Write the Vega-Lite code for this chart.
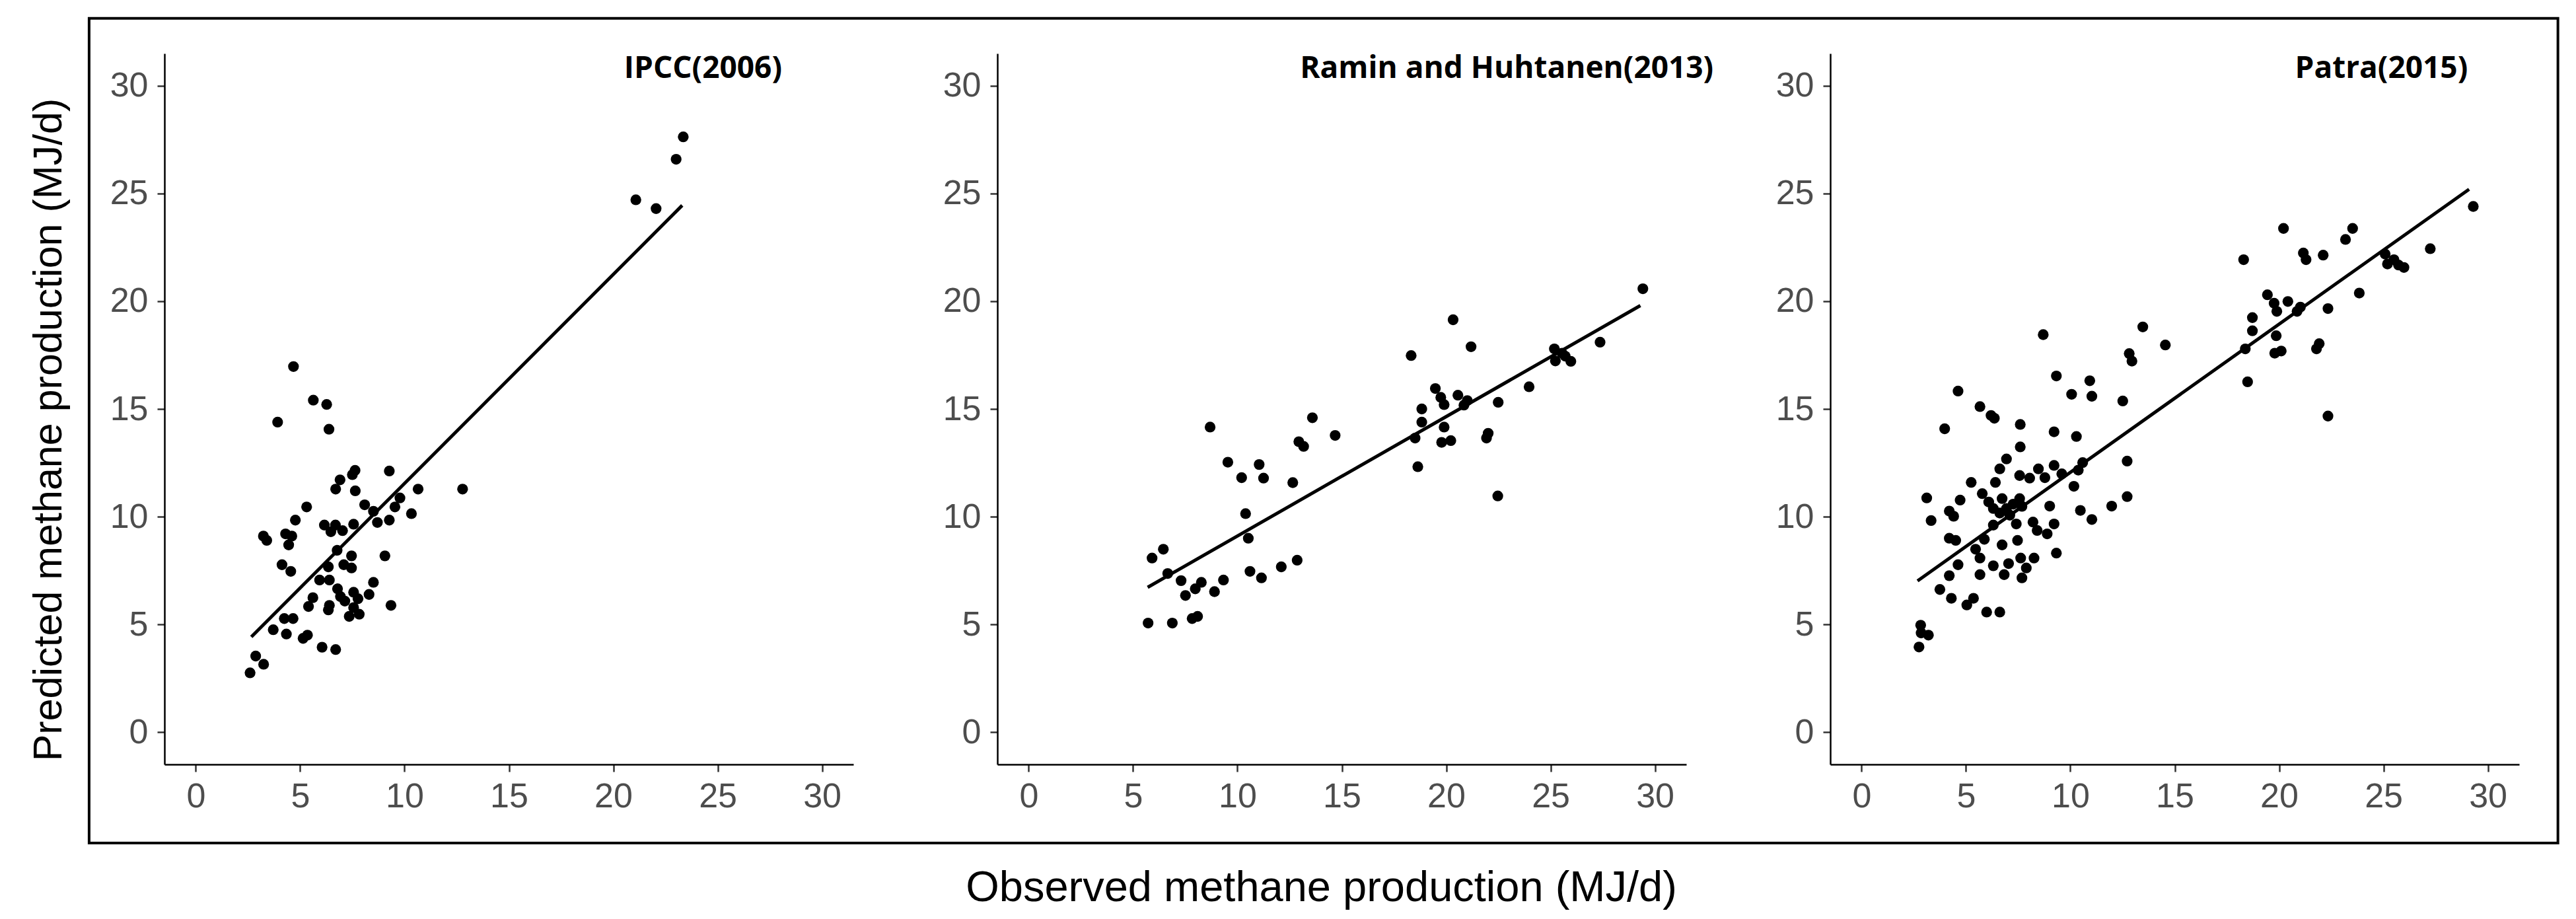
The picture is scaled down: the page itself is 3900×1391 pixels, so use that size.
{
  "$schema": "https://vega.github.io/schema/vega-lite/v6.json",
  "background": "white",
  "padding": {"left": 43, "top": 25, "right": 5, "bottom": 5},
  "config": {
    "view": {"stroke": null},
    "axis": {
      "grid": false,
      "domainColor": "#000000",
      "domainWidth": 2.5,
      "tickColor": "#333333",
      "tickWidth": 2.5,
      "tickSize": 11,
      "labelFont": "Liberation Sans",
      "labelFontSize": 52,
      "labelColor": "#4D4D4D",
      "titleFont": "Liberation Sans",
      "titleFontSize": 63,
      "titleFontWeight": "normal",
      "titleColor": "#000000"
    }
  },
  "datasets": {
    "p1": [
      {"x": 4.68, "y": 16.97}, {"x": 5.63, "y": 15.41}, {"x": 6.27, "y": 15.21}, {"x": 3.92, "y": 14.39},
      {"x": 6.38, "y": 14.06}, {"x": 7.5, "y": 11.95}, {"x": 7.63, "y": 12.15}, {"x": 9.27, "y": 12.12},
      {"x": 6.91, "y": 11.71}, {"x": 6.7, "y": 11.28}, {"x": 7.64, "y": 11.2}, {"x": 10.65, "y": 11.28},
      {"x": 12.78, "y": 11.28}, {"x": 9.78, "y": 10.87}, {"x": 8.09, "y": 10.55}, {"x": 9.54, "y": 10.45},
      {"x": 5.31, "y": 10.45}, {"x": 8.51, "y": 10.25}, {"x": 10.33, "y": 10.14}, {"x": 4.77, "y": 9.84},
      {"x": 8.7, "y": 9.73}, {"x": 9.27, "y": 9.84}, {"x": 6.16, "y": 9.61}, {"x": 6.69, "y": 9.61},
      {"x": 7.56, "y": 9.65}, {"x": 6.47, "y": 9.3}, {"x": 7.03, "y": 9.35}, {"x": 3.24, "y": 9.1},
      {"x": 3.4, "y": 8.9}, {"x": 4.3, "y": 9.2}, {"x": 4.6, "y": 9.1}, {"x": 4.45, "y": 8.69},
      {"x": 6.77, "y": 8.44}, {"x": 7.46, "y": 8.18}, {"x": 7.09, "y": 7.77}, {"x": 7.46, "y": 7.62},
      {"x": 9.06, "y": 8.18}, {"x": 4.13, "y": 7.77}, {"x": 4.55, "y": 7.46}, {"x": 6.35, "y": 7.67},
      {"x": 5.93, "y": 7.06}, {"x": 6.4, "y": 7.06}, {"x": 8.51, "y": 6.95}, {"x": 6.79, "y": 6.65},
      {"x": 7.56, "y": 6.49}, {"x": 8.3, "y": 6.39}, {"x": 5.61, "y": 6.24}, {"x": 5.4, "y": 5.83},
      {"x": 6.4, "y": 5.88}, {"x": 6.35, "y": 5.67}, {"x": 7.14, "y": 6.08}, {"x": 6.93, "y": 6.29},
      {"x": 7.77, "y": 6.19}, {"x": 7.56, "y": 5.78}, {"x": 7.35, "y": 5.37}, {"x": 7.83, "y": 5.47},
      {"x": 9.35, "y": 5.88}, {"x": 4.24, "y": 5.27}, {"x": 4.66, "y": 5.27}, {"x": 3.71, "y": 4.75},
      {"x": 4.34, "y": 4.55}, {"x": 5.14, "y": 4.35}, {"x": 5.35, "y": 4.5}, {"x": 6.05, "y": 3.94},
      {"x": 6.7, "y": 3.83}, {"x": 2.87, "y": 3.53}, {"x": 2.6, "y": 2.75}, {"x": 3.25, "y": 3.15},
      {"x": 21.08, "y": 24.71}, {"x": 22.05, "y": 24.3}, {"x": 23.01, "y": 26.59}, {"x": 23.35, "y": 27.63}
    ],
    "l1": [{"x": 2.66, "y": 4.42}, {"x": 23.3, "y": 24.45}],
    "p2": [
      {"x": 8.69, "y": 14.16}, {"x": 13.59, "y": 14.59}, {"x": 14.68, "y": 13.77}, {"x": 12.94, "y": 13.48},
      {"x": 13.17, "y": 13.26}, {"x": 9.54, "y": 12.53}, {"x": 11.04, "y": 12.42}, {"x": 10.2, "y": 11.81},
      {"x": 11.25, "y": 11.79}, {"x": 12.65, "y": 11.58}, {"x": 10.39, "y": 10.14}, {"x": 10.52, "y": 9.0},
      {"x": 6.45, "y": 8.49}, {"x": 5.91, "y": 8.08}, {"x": 6.66, "y": 7.36}, {"x": 10.6, "y": 7.46},
      {"x": 11.15, "y": 7.16}, {"x": 12.1, "y": 7.67}, {"x": 12.86, "y": 7.98}, {"x": 7.3, "y": 7.03},
      {"x": 8.27, "y": 6.95}, {"x": 7.98, "y": 6.65}, {"x": 7.51, "y": 6.34}, {"x": 9.33, "y": 7.06},
      {"x": 8.9, "y": 6.52}, {"x": 5.72, "y": 5.06}, {"x": 6.88, "y": 5.06}, {"x": 7.83, "y": 5.27},
      {"x": 8.09, "y": 5.37},
      {"x": 29.42, "y": 20.58}, {"x": 20.33, "y": 19.14}, {"x": 21.19, "y": 17.89}, {"x": 18.32, "y": 17.48},
      {"x": 27.37, "y": 18.1}, {"x": 25.18, "y": 17.79}, {"x": 25.55, "y": 17.59}, {"x": 25.23, "y": 17.23},
      {"x": 25.97, "y": 17.21}, {"x": 25.7, "y": 17.45}, {"x": 23.97, "y": 16.03}, {"x": 19.48, "y": 15.95},
      {"x": 19.74, "y": 15.54}, {"x": 19.9, "y": 15.2}, {"x": 20.56, "y": 15.64}, {"x": 21.01, "y": 15.39},
      {"x": 20.85, "y": 15.18}, {"x": 22.49, "y": 15.31}, {"x": 18.83, "y": 15.0}, {"x": 18.83, "y": 14.39},
      {"x": 18.51, "y": 13.65}, {"x": 19.9, "y": 14.16}, {"x": 19.78, "y": 13.45}, {"x": 20.22, "y": 13.53},
      {"x": 22.01, "y": 13.87}, {"x": 21.93, "y": 13.65}, {"x": 18.64, "y": 12.32}, {"x": 22.47, "y": 10.96}
    ],
    "l2": [{"x": 5.7, "y": 6.72}, {"x": 29.3, "y": 19.8}],
    "p3": [
      {"x": 8.7, "y": 18.45}, {"x": 4.62, "y": 15.83}, {"x": 5.67, "y": 15.11}, {"x": 6.2, "y": 14.7},
      {"x": 6.36, "y": 14.57}, {"x": 3.98, "y": 14.08}, {"x": 7.6, "y": 14.28}, {"x": 7.6, "y": 13.24},
      {"x": 6.94, "y": 12.68}, {"x": 6.62, "y": 12.22}, {"x": 5.25, "y": 11.59}, {"x": 6.41, "y": 11.59},
      {"x": 7.57, "y": 11.91}, {"x": 8.05, "y": 11.79}, {"x": 8.47, "y": 12.22}, {"x": 8.78, "y": 11.81},
      {"x": 3.12, "y": 10.87}, {"x": 4.72, "y": 10.77}, {"x": 5.78, "y": 11.07}, {"x": 4.2, "y": 10.26},
      {"x": 4.41, "y": 10.02}, {"x": 3.33, "y": 9.82}, {"x": 6.09, "y": 10.68}, {"x": 6.73, "y": 10.84},
      {"x": 7.57, "y": 10.84}, {"x": 6.31, "y": 10.38}, {"x": 6.94, "y": 10.38}, {"x": 7.26, "y": 10.58},
      {"x": 6.62, "y": 10.17}, {"x": 7.1, "y": 10.07}, {"x": 7.68, "y": 10.48}, {"x": 7.41, "y": 9.66},
      {"x": 6.31, "y": 9.61}, {"x": 8.21, "y": 9.75}, {"x": 8.41, "y": 9.36}, {"x": 8.89, "y": 9.2},
      {"x": 7.47, "y": 8.9}, {"x": 5.88, "y": 8.95}, {"x": 6.73, "y": 8.69}, {"x": 4.2, "y": 9.0},
      {"x": 4.51, "y": 8.9}, {"x": 5.46, "y": 8.49}, {"x": 5.67, "y": 8.08}, {"x": 4.62, "y": 7.77},
      {"x": 4.2, "y": 7.26}, {"x": 5.67, "y": 7.31}, {"x": 6.31, "y": 7.72}, {"x": 6.83, "y": 7.31},
      {"x": 7.04, "y": 7.82}, {"x": 7.62, "y": 8.08}, {"x": 8.26, "y": 8.08}, {"x": 7.68, "y": 7.16},
      {"x": 7.89, "y": 7.62}, {"x": 3.75, "y": 6.62}, {"x": 4.3, "y": 6.21}, {"x": 5.04, "y": 5.9},
      {"x": 5.36, "y": 6.21}, {"x": 5.99, "y": 5.57}, {"x": 6.62, "y": 5.57}, {"x": 2.83, "y": 4.96},
      {"x": 2.85, "y": 4.6}, {"x": 3.2, "y": 4.5}, {"x": 2.75, "y": 3.95},
      {"x": 13.47, "y": 18.81}, {"x": 14.55, "y": 17.97}, {"x": 12.82, "y": 17.57}, {"x": 12.95, "y": 17.22},
      {"x": 9.33, "y": 16.53}, {"x": 10.93, "y": 16.31}, {"x": 10.06, "y": 15.68}, {"x": 11.03, "y": 15.59},
      {"x": 12.51, "y": 15.37}, {"x": 9.22, "y": 13.94}, {"x": 10.29, "y": 13.72}, {"x": 12.72, "y": 12.58},
      {"x": 9.22, "y": 12.38}, {"x": 9.59, "y": 11.99}, {"x": 10.59, "y": 12.51}, {"x": 10.38, "y": 12.16},
      {"x": 10.17, "y": 11.41}, {"x": 12.72, "y": 10.93}, {"x": 9.01, "y": 10.49}, {"x": 10.48, "y": 10.29},
      {"x": 11.03, "y": 9.87}, {"x": 11.98, "y": 10.49}, {"x": 9.22, "y": 9.66}, {"x": 9.33, "y": 8.31},
      {"x": 29.3, "y": 24.4}, {"x": 20.21, "y": 23.38}, {"x": 23.52, "y": 23.38}, {"x": 23.18, "y": 22.87},
      {"x": 18.3, "y": 21.93}, {"x": 21.16, "y": 22.24}, {"x": 21.29, "y": 21.93}, {"x": 22.11, "y": 22.14},
      {"x": 27.24, "y": 22.44}, {"x": 25.08, "y": 22.19}, {"x": 25.19, "y": 21.73}, {"x": 25.5, "y": 21.93},
      {"x": 25.72, "y": 21.68}, {"x": 25.98, "y": 21.57}, {"x": 23.84, "y": 20.38}, {"x": 19.44, "y": 20.3},
      {"x": 19.76, "y": 19.91}, {"x": 19.89, "y": 19.53}, {"x": 20.42, "y": 19.99}, {"x": 21.02, "y": 19.73},
      {"x": 20.86, "y": 19.53}, {"x": 22.34, "y": 19.66}, {"x": 18.72, "y": 19.24}, {"x": 18.72, "y": 18.63},
      {"x": 18.38, "y": 17.79}, {"x": 19.86, "y": 18.4}, {"x": 19.79, "y": 17.59}, {"x": 20.1, "y": 17.69},
      {"x": 21.92, "y": 18.03}, {"x": 21.79, "y": 17.79}, {"x": 18.49, "y": 16.26}, {"x": 22.34, "y": 14.67}
    ],
    "l3": [{"x": 2.68, "y": 7.02}, {"x": 29.1, "y": 25.2}],
    "titles": [
      {"panel": 1, "label": "IPCC(2006)"},
      {"panel": 2, "label": "Ramin and Huhtanen(2013)"},
      {"panel": 3, "label": "Patra(2015)"}
    ]
  },
  "bounds": "flush",
  "spacing": 218,
  "hconcat": [
    {
      "width": 1043,
      "height": 1076,
      "layer": [
        {
          "data": {"values": [{}]},
          "mark": {"type": "rect", "fill": null, "fillOpacity": 0, "stroke": "#000000", "strokeWidth": 4},
          "encoding": {
            "x": {"datum": -5.11, "type": "quantitative", "scale": {"domain": [-1.5, 31.5], "nice": false, "zero": false}},
            "x2": {"datum": 113.15},
            "y": {"datum": 33.13, "type": "quantitative", "scale": {"domain": [-1.5, 31.5], "nice": false, "zero": false}},
            "y2": {"datum": -5.15}
          }
        },
        {
          "data": {"name": "p1"},
          "mark": {"type": "circle", "size": 265, "color": "#000000", "opacity": 1},
          "encoding": {
            "x": {"field": "x", "type": "quantitative", "scale": {"domain": [-1.5, 31.5], "nice": false, "zero": false},
                  "axis": {"values": [0, 5, 10, 15, 20, 25, 30], "title": null, "labelPadding": 12}},
            "y": {"field": "y", "type": "quantitative", "scale": {"domain": [-1.5, 31.5], "nice": false, "zero": false},
                  "axis": {"values": [0, 5, 10, 15, 20, 25, 30], "labelPadding": 14,
                           "title": "Predicted methane production (MJ/d)", "titleFontSize": 61,
                           "titleAngle": -90, "titleX": -175, "titleY": 569, "titleBaseline": "middle", "titleAlign": "center"}}
          }
        },
        {
          "data": {"name": "l1"},
          "mark": {"type": "line", "color": "#000000", "strokeWidth": 5},
          "encoding": {
            "x": {"field": "x", "type": "quantitative"},
            "y": {"field": "y", "type": "quantitative"}
          }
        },
        {
          "data": {"name": "titles"},
          "transform": [{"filter": "datum.panel == 1"}],
          "mark": {"type": "text", "font": "Open Sans", "fontWeight": "bold", "fontSize": 46, "color": "#000000", "align": "center", "baseline": "middle"},
          "encoding": {
            "x": {"datum": 24.3, "type": "quantitative"},
            "y": {"datum": 30.8, "type": "quantitative"},
            "text": {"field": "label"}
          }
        }
      ]
    },
    {
      "width": 1043,
      "height": 1076,
      "layer": [
        {
          "data": {"name": "p2"},
          "mark": {"type": "circle", "size": 265, "color": "#000000", "opacity": 1},
          "encoding": {
            "x": {"field": "x", "type": "quantitative", "scale": {"domain": [-1.5, 31.5], "nice": false, "zero": false},
                  "axis": {"values": [0, 5, 10, 15, 20, 25, 30], "labelPadding": 12,
                           "title": "Observed methane production (MJ/d)", "titleFontSize": 65,
                           "titleX": 490, "titleY": 186, "titleBaseline": "middle", "titleAlign": "center"}},
            "y": {"field": "y", "type": "quantitative", "scale": {"domain": [-1.5, 31.5], "nice": false, "zero": false},
                  "axis": {"values": [0, 5, 10, 15, 20, 25, 30], "labelPadding": 14, "title": null}}
          }
        },
        {
          "data": {"name": "l2"},
          "mark": {"type": "line", "color": "#000000", "strokeWidth": 5},
          "encoding": {
            "x": {"field": "x", "type": "quantitative"},
            "y": {"field": "y", "type": "quantitative"}
          }
        },
        {
          "data": {"name": "titles"},
          "transform": [{"filter": "datum.panel == 2"}],
          "mark": {"type": "text", "font": "Open Sans", "fontWeight": "bold", "fontSize": 46, "color": "#000000", "align": "center", "baseline": "middle"},
          "encoding": {
            "x": {"datum": 22.9, "type": "quantitative"},
            "y": {"datum": 30.8, "type": "quantitative"},
            "text": {"field": "label"}
          }
        }
      ]
    },
    {
      "width": 1043,
      "height": 1076,
      "layer": [
        {
          "data": {"name": "p3"},
          "mark": {"type": "circle", "size": 265, "color": "#000000", "opacity": 1},
          "encoding": {
            "x": {"field": "x", "type": "quantitative", "scale": {"domain": [-1.5, 31.5], "nice": false, "zero": false},
                  "axis": {"values": [0, 5, 10, 15, 20, 25, 30], "title": null, "labelPadding": 12}},
            "y": {"field": "y", "type": "quantitative", "scale": {"domain": [-1.5, 31.5], "nice": false, "zero": false},
                  "axis": {"values": [0, 5, 10, 15, 20, 25, 30], "labelPadding": 14, "title": null}}
          }
        },
        {
          "data": {"name": "l3"},
          "mark": {"type": "line", "color": "#000000", "strokeWidth": 5},
          "encoding": {
            "x": {"field": "x", "type": "quantitative"},
            "y": {"field": "y", "type": "quantitative"}
          }
        },
        {
          "data": {"name": "titles"},
          "transform": [{"filter": "datum.panel == 3"}],
          "mark": {"type": "text", "font": "Open Sans", "fontWeight": "bold", "fontSize": 46, "color": "#000000", "align": "center", "baseline": "middle"},
          "encoding": {
            "x": {"datum": 24.9, "type": "quantitative"},
            "y": {"datum": 30.8, "type": "quantitative"},
            "text": {"field": "label"}
          }
        }
      ]
    }
  ]
}
